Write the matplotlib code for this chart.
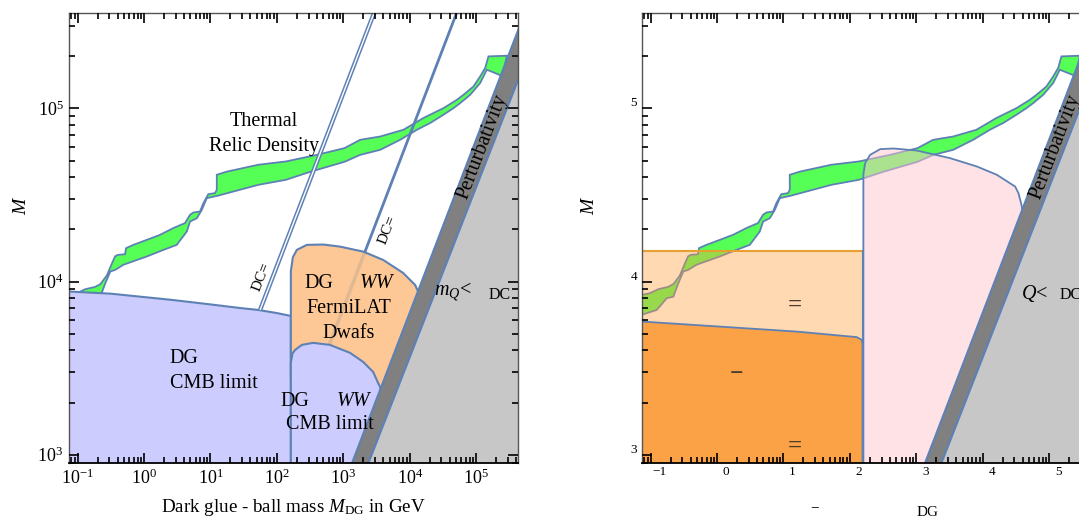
import numpy as np
import matplotlib.pyplot as plt
from matplotlib.ticker import FixedLocator, NullFormatter, LogFormatterMathtext

plt.rcParams['font.family'] = ['Liberation Serif', 'DejaVu Serif']
plt.rcParams['mathtext.fontset'] = 'custom'
plt.rcParams['mathtext.rm'] = 'Liberation Serif'
plt.rcParams['mathtext.it'] = 'Liberation Serif:italic'

# everything below is log10 of the mass in GeV
XLIM = (-1.13, 5.63)
YLIM = (2.95, 5.55)

# thermal relic density band (upper edge left->right, lower edge right->left)
relic_top_x = [-1.25, -1.134, -1.009, -0.884, -0.738, -0.658, -0.56, -0.482, -0.437, -0.40,
               -0.286, -0.271, -0.161, 0.041, 0.241, 0.441, 0.617, 0.693, 0.742, 0.843,
               0.893, 0.968, 1.069, 1.095, 1.095, 1.255, 1.721, 2.136, 2.602, 3.018,
               3.253, 3.554, 3.905, 4.206, 4.508, 4.709, 4.809, 4.959, 5.060, 5.136,
               5.185, 5.462, 5.402]
relic_top_y = [3.915, 3.923, 3.933, 3.956, 3.969, 3.985, 4.035, 4.106, 4.145, 4.154,
               4.158, 4.193, 4.212, 4.241, 4.270, 4.309, 4.338, 4.386, 4.399, 4.405,
               4.453, 4.505, 4.511, 4.530, 4.617, 4.636, 4.675, 4.694, 4.732, 4.771,
               4.819, 4.838, 4.877, 4.945, 5.002, 5.050, 5.079, 5.127, 5.185, 5.234,
               5.301, 5.305, 5.195]
relic_bot_x = [5.387, 5.161, 5.060, 4.910, 4.759, 4.658, 4.508, 4.307, 4.107, 3.855,
               3.554, 3.253, 3.018, 2.500, 2.136, 1.721, 1.099, 0.944, 0.869, 0.794,
               0.693, 0.643, 0.492, 0.291, 0.041, -0.312, -0.432, -0.508, -0.583, -0.658,
               -0.758, -0.908, -1.134, -1.25]
relic_bot_y = [5.189, 5.224, 5.147, 5.079, 5.031, 5.002, 4.964, 4.916, 4.877, 4.819,
               4.761, 4.732, 4.692, 4.634, 4.588, 4.559, 4.495, 4.482, 4.414, 4.366,
               4.347, 4.289, 4.212, 4.183, 4.145, 4.097, 4.068, 4.058, 3.991, 3.913,
               3.904, 3.836, 3.808, 3.80]

# CMB limit on DG -> photons (left panel)
cmb_x = [-1.3, -1.3, -0.5, 0.42, 1.0, 1.45, 1.72, 2.0, 2.19, 2.21, 2.21]
cmb_y = [2.8, 3.946, 3.930, 3.894, 3.868, 3.847, 3.836, 3.818, 3.803, 3.80, 2.8]

# FermiLAT dwarfs limit on DG -> WW
fermi_x = [2.21, 2.21, 2.24, 2.30, 2.45, 2.70, 2.95, 3.30, 3.60, 3.90, 4.08, 4.30, 3.50]
fermi_y = [3.45, 4.06, 4.14, 4.183, 4.212, 4.214, 4.202, 4.173, 4.125, 4.050, 3.981, 3.80, 3.30]

# CMB limit on DG -> WW
cmbww_x = [2.21, 2.21, 2.235, 2.274, 2.375, 2.545, 2.801, 3.102, 3.298, 3.449, 3.524, 3.554, 3.62, 3.70]
cmbww_y = [2.8, 3.53, 3.585, 3.605, 3.634, 3.646, 3.634, 3.588, 3.536, 3.478, 3.414, 3.391, 3.20, 2.8]

# M / M_DG ratios of the two DC lines
dc1_x = [1.747, 3.6]
dc1_y = [3.836, 5.689]
dc2_x = [3.328, 4.8]
dc2_y = [4.174, 5.646]
dc2_hidden_x = [2.78, 3.328]
dc2_hidden_y = [3.626, 4.174]

# perturbativity band and the excluded m_Q < M_DC region
pert_left_x = [2.9, 5.9]
pert_left_y = [2.72, 5.72]
pert_right_x = [3.2, 5.9]
pert_right_y = [2.777, 5.429]

# right panel regions
peach_top = 4.176
peach_edge = 2.19
orange_x = [-1.3, -1.134, 0.196, 1.200, 2.104, 2.179, 2.19, 2.19, -1.3]
orange_y = [3.772, 3.769, 3.736, 3.711, 3.679, 3.663, 3.64, 2.8, 2.8]
pink_x = [2.203, 2.203, 2.229, 2.304, 2.455, 2.655, 3.008, 3.509, 3.911, 4.212,
          4.488, 4.538, 4.589, 4.65, 3.5]
pink_y = [2.8, 4.62, 4.684, 4.732, 4.765, 4.769, 4.757, 4.713, 4.665, 4.617,
          4.549, 4.511, 4.434, 4.2, 2.8]

# labelled decades, and the decades that carry minor ticks
x_decades = np.arange(-1, 6)
y_decades = np.arange(3, 6)
x_minor_decades = np.arange(-2, 6)
y_minor_decades = np.arange(2, 6)

BLUE = '#5e81b5'
GREEN = '#55ff55'


def E(v):
    return 10 ** np.asarray(v, dtype=float)


def minor_of(decades):
    return np.concatenate([np.arange(2, 10) * 10.0 ** d for d in decades])


def frame(ax):
    ax.set_xscale('log')
    ax.set_yscale('log')
    ax.set_xlim(E(XLIM))
    ax.set_ylim(E(YLIM))
    ax.xaxis.set_major_locator(FixedLocator(E(x_decades)))
    ax.yaxis.set_major_locator(FixedLocator(E(y_decades)))
    ax.xaxis.set_minor_locator(FixedLocator(minor_of(x_minor_decades)))
    ax.yaxis.set_minor_locator(FixedLocator(minor_of(y_minor_decades)))
    ax.xaxis.set_minor_formatter(NullFormatter())
    ax.yaxis.set_minor_formatter(NullFormatter())
    ax.tick_params(which='both', direction='in', top=True, right=True,
                   color='black', width=1.2, labelsize=13, pad=4)
    ax.tick_params(which='major', length=7)
    ax.tick_params(which='minor', length=4.5)
    # ticks and frame sit on top of the filled regions
    ax.xaxis.set_zorder(9)
    ax.yaxis.set_zorder(9)
    for s in ax.spines.values():
        s.set_color('#555555')
        s.set_linewidth(1.0)
        s.set_zorder(9)
    ax.spines['bottom'].set_color('black')
    ax.spines['bottom'].set_linewidth(1.3)


def relic(ax):
    xs = relic_top_x + relic_bot_x
    ys = relic_top_y + relic_bot_y
    ax.fill(E(xs), E(ys), fc=GREEN, ec=BLUE, lw=1.3, zorder=2)


def perturbativity(ax):
    dx = pert_left_x + pert_right_x[::-1]
    dy = pert_left_y + pert_right_y[::-1]
    ax.fill(E(dx), E(dy), fc='#808080', ec=BLUE, lw=1.5, zorder=6)
    lx = pert_right_x + [5.9]
    ly = pert_right_y + [2.7]
    ax.fill(E(lx), E(ly), fc='#c7c7c7', ec=BLUE, lw=1.5, zorder=6)
    ax.text(E(5.10), E(4.78), 'Perturbativity', rotation=69, fontsize=14.5,
            ha='center', va='center', zorder=8, rotation_mode='anchor')


def t(ax, x, y, s, **kw):
    kw.setdefault('fontsize', 14.5)
    ax.text(E(x), E(y), s, ha='center', va='center', zorder=8, **kw)


fig = plt.figure(figsize=(10.79, 5.18), dpi=100)
W, H = 1079, 518
ax1 = fig.add_axes([69 / W, (H - 463.3) / H, 449 / W, 450 / H])
ax2 = fig.add_axes([642 / W, (H - 463.3) / H, 449 / W, 450 / H])

# ---- left panel ----
frame(ax1)
ax1.xaxis.set_major_formatter(LogFormatterMathtext())
ax1.yaxis.set_major_formatter(LogFormatterMathtext())
relic(ax1)
ax1.fill(E(cmb_x), E(cmb_y), fc='#ccccff', ec=BLUE, lw=1.5, zorder=3)
ax1.fill(E(fermi_x), E(fermi_y), fc='#fdc896', ec=BLUE, lw=1.5, zorder=3)
ax1.fill(E(cmbww_x), E(cmbww_y), fc='#ccccff', ec=BLUE, lw=1.5, zorder=4)

ax1.plot(E(dc1_x), E(dc1_y), color=BLUE, lw=3.2, zorder=5, solid_capstyle='butt')
ax1.plot(E(dc1_x), E(dc1_y), color='white', lw=1.0, zorder=5, solid_capstyle='butt')
ax1.plot(E(dc2_x), E(dc2_y), color=BLUE, lw=2.0, zorder=5)
ax1.plot(E(dc2_hidden_x), E(dc2_hidden_y), color='#8a8a8a', lw=2.5, alpha=0.25, zorder=3.5)
perturbativity(ax1)

t(ax1, 1.80, 4.925, 'Thermal')
t(ax1, 1.81, 4.78, 'Relic Density')
t(ax1, 2.625, 3.991, 'DG')
t(ax1, 3.505, 3.991, 'WW', fontstyle='italic')
t(ax1, 3.077, 3.846, 'FermiLAT')
t(ax1, 3.077, 3.702, 'Dwafs')
t(ax1, 0.605, 3.557, 'DG')
t(ax1, 1.047, 3.413, 'CMB limit')
t(ax1, 2.274, 3.306, 'DG')
t(ax1, 3.152, 3.306, 'WW', fontstyle='italic')
t(ax1, 2.801, 3.172, 'CMB limit')
t(ax1, 1.773, 4.029, 'DC=', rotation=69, fontsize=11, rotation_mode='anchor')
t(ax1, 3.666, 4.299, 'DC=', rotation=69, fontsize=11, rotation_mode='anchor')
t(ax1, 4.654, 3.942, '$m_Q$<')
t(ax1, 5.361, 3.923, 'DC', fontsize=11.5)

fig.text(293.5 / W, 1 - 507 / H, r'Dark glue - ball mass $M_{\mathrm{DG}}$ in GeV',
         ha='center', va='center', fontsize=13.7)
fig.text(22 / W, 1 - 205 / H, '$M$', ha='center', va='center', fontsize=14, rotation=90)

# ---- right panel ----
frame(ax2)
ax2.xaxis.set_major_formatter(NullFormatter())
ax2.yaxis.set_major_formatter(NullFormatter())
relic(ax2)
ax2.fill(E([-1.3, peach_edge, peach_edge, -1.3]), E([2.8, 2.8, peach_top, peach_top]),
         fc=(1.0, 0.63, 0.25, 0.4), ec='none', zorder=3)
ax2.plot(E([-1.3, peach_edge]), E([peach_top, peach_top]), color='#e6a032', lw=1.5, zorder=4)
ax2.fill(E(orange_x), E(orange_y), fc='#fba146', ec=BLUE, lw=1.3, zorder=4)
ax2.plot(E([peach_edge, peach_edge]), E([2.8, peach_top]), color=BLUE, lw=1.5, zorder=4)
ax2.fill(E(pink_x), E(pink_y), fc=(1.0, 0.78, 0.80, 0.5), ec=BLUE, lw=1.3, zorder=4)
perturbativity(ax2)

dark = '#4a3d2e'
t(ax2, 1.175, 3.865, '=', color=dark, fontsize=18, fontweight='bold')
t(ax2, 0.297, 3.465, '−', color=dark, fontsize=17, fontweight='bold')
t(ax2, 1.175, 3.046, '=', color=dark, fontsize=18, fontweight='bold')
t(ax2, 4.777, 3.933, '$Q$<')
t(ax2, 5.321, 3.923, 'DC', fontsize=11.5)

# exponent-only tick labels
for k in x_decades:
    ax2.annotate(str(k).replace('-', '−'), xy=(E(k), 0), xycoords=('data', 'axes fraction'),
                 xytext=(9, -9), textcoords='offset pixels', ha='center', va='center',
                 fontsize=9.5)
for k in y_decades:
    ax2.annotate(str(k), xy=(0, E(k)), xycoords=('axes fraction', 'data'),
                 xytext=(-5, 5), textcoords='offset pixels', ha='right', va='center',
                 fontsize=9.5)

fig.text(590 / W, 1 - 205 / H, '$M$', ha='center', va='center', fontsize=14, rotation=90)
fig.text(815 / W, 1 - 508 / H, '−', ha='center', va='center', fontsize=11)
fig.text(928 / W, 1 - 512 / H, 'DG', ha='center', va='center', fontsize=11)

fig.savefig('out.png', dpi=100)
